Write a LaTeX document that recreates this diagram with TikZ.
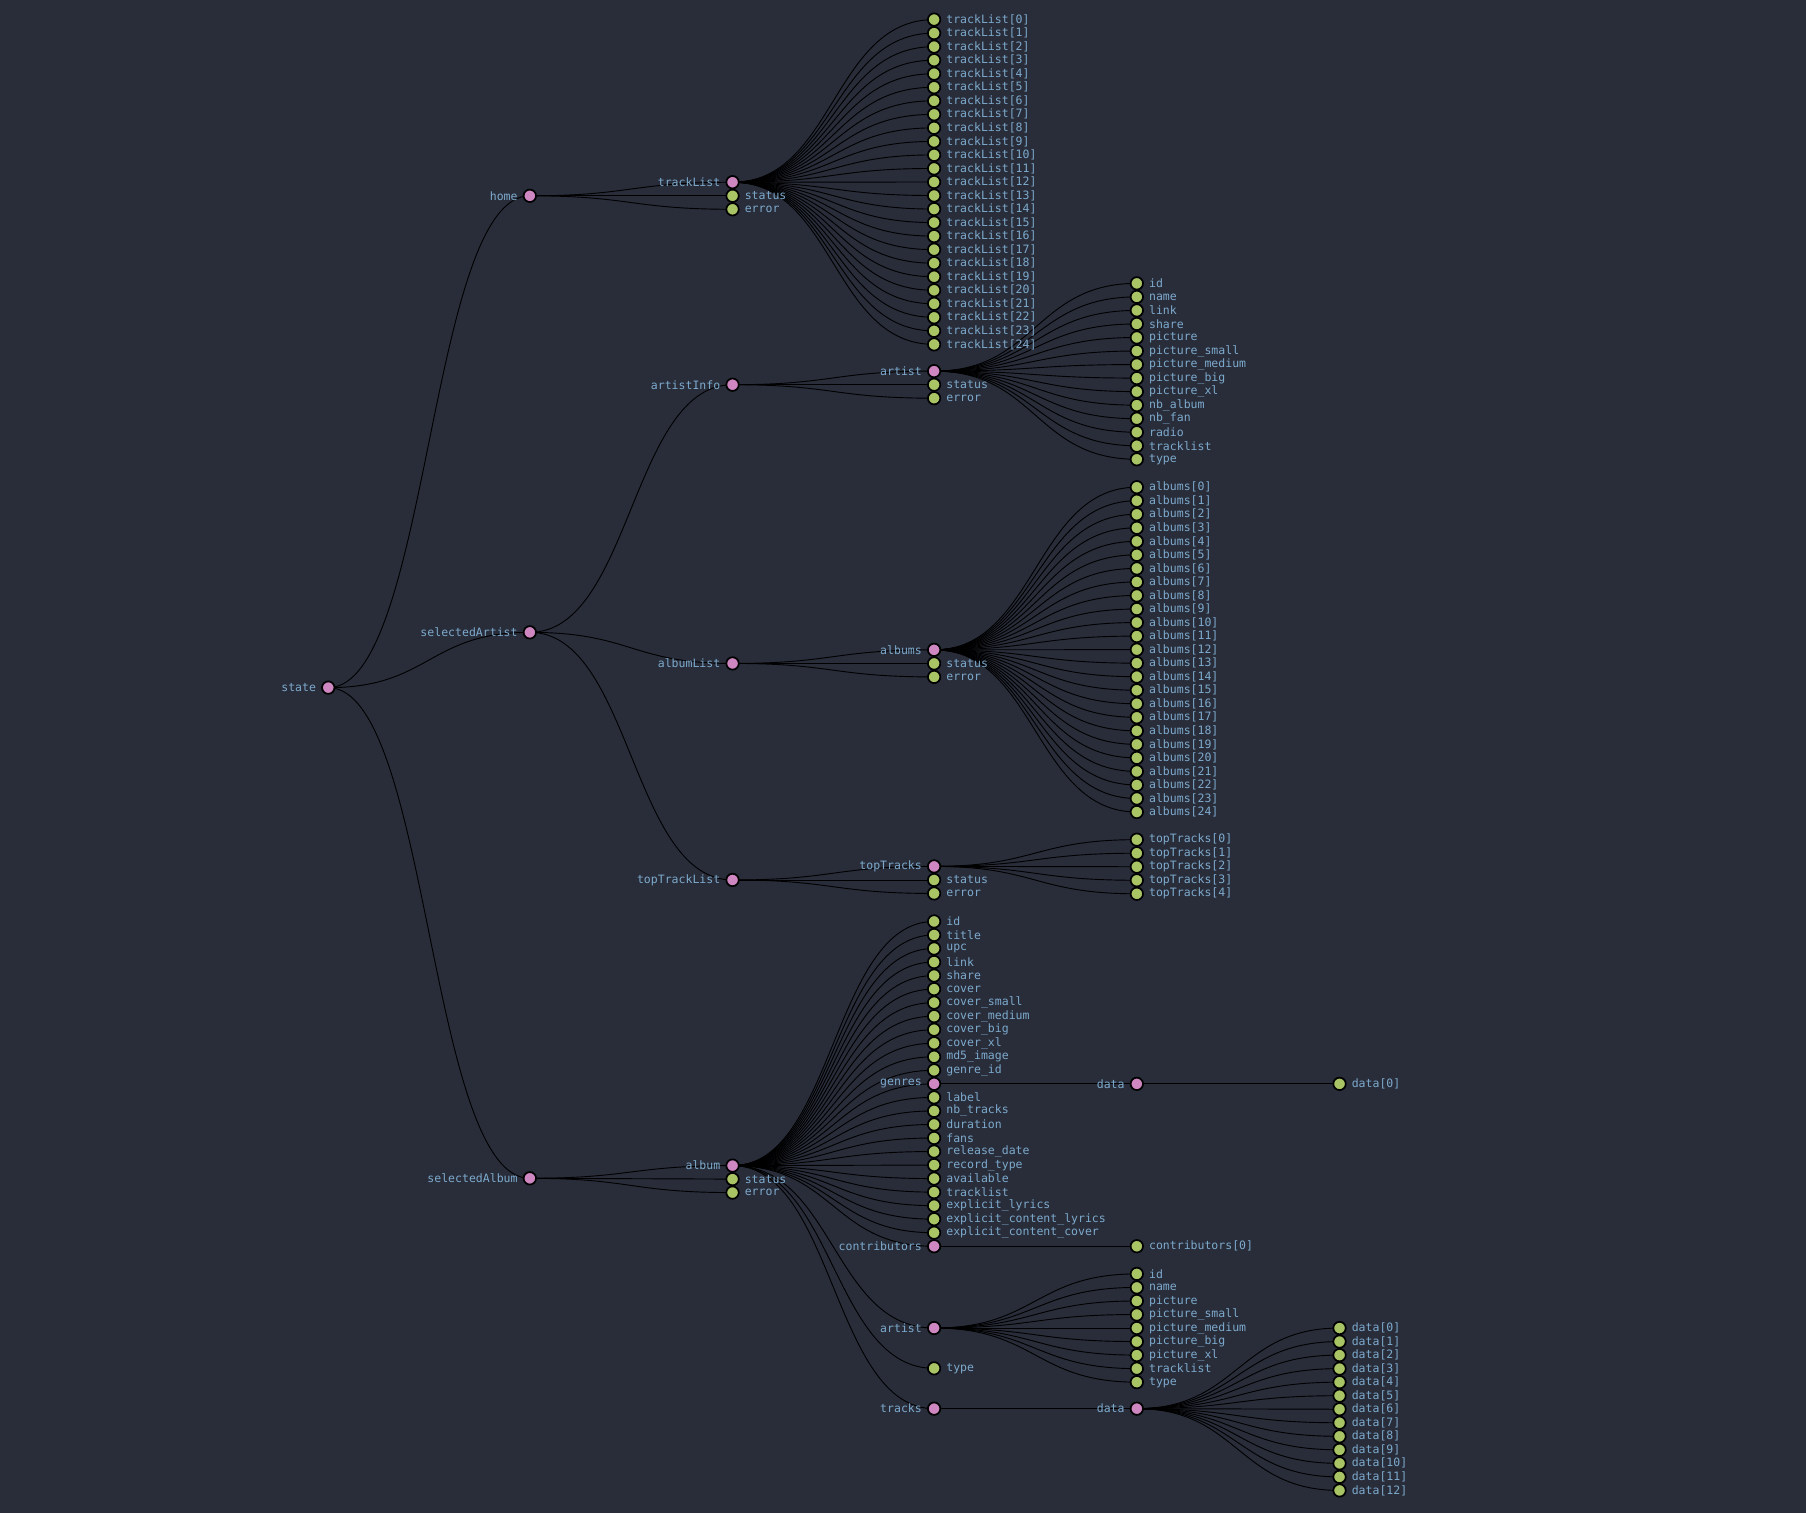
\documentclass[tikz,border=0pt]{standalone}
\usepackage{fontspec}
\setmonofont{DejaVu Sans Mono}
\usepackage{xcolor}
\usepackage{tikz}
\usetikzlibrary{backgrounds}
\definecolor{bgcol}{HTML}{292D3A}
\definecolor{pinkcol}{HTML}{CF87C2}
\definecolor{greencol}{HTML}{A9C465}
\definecolor{txtcol}{HTML}{7DAACD}
\pgfdeclarelayer{edges}
\pgfsetlayers{background,edges,main}

\begin{document}
\begin{tikzpicture}[x=0.5pt,y=-0.5pt,
  branch/.style={circle, draw=black, line width=0.75pt, fill=pinkcol, minimum size=5.4pt, inner sep=0pt},
  leaf/.style={circle, draw=black, line width=0.75pt, fill=greencol, minimum size=5.4pt, inner sep=0pt},
  every label/.style={text=txtcol, font=\ttfamily\fontsize{5}{6}\selectfont, inner sep=0.4pt},
  label distance=1.65pt,
  link/.style={black, line width=0.4pt,
    to path={(\tikztostart.center) .. controls +(88,0) and +(-88,0) .. (\tikztotarget.center)}}]
\begin{pgfonlayer}{background}
\fill[bgcol] (0,0) rectangle (1568,1314);
\end{pgfonlayer}

% root and first level
\node[branch, label=left:state] (state) at (285,597) {};
\node[branch, label=left:home] (home) at (460,170) {};
\node[branch, label=left:selectedArtist] (selArtist) at (460,549) {};
\node[branch, label=left:selectedAlbum] (selAlbum) at (460,1023) {};

% home
\node[branch, label=left:trackList] (trackList) at (636,158.2) {};
\node[leaf, label=right:status] (hmStatus) at (636,170) {};
\node[leaf, label=right:error] (hmError) at (636,181.7) {};
\foreach \k in {0,...,24}
  \node[leaf, label=right:{trackList[\k]}] (tl\k) at (811,{17+\k*11.75}) {};

% selectedArtist
\node[branch, label=left:artistInfo] (artistInfo) at (636,334) {};
\node[branch, label=left:artist] (aiArtist) at (811,322.2) {};
\node[leaf, label=right:status] (aiStatus) at (811,334) {};
\node[leaf, label=right:error] (aiError) at (811,345.7) {};
\foreach \t [count=\k from 0] in {id,name,link,share,picture,picture\_small,picture\_medium,picture\_big,picture\_xl,nb\_album,nb\_fan,radio,tracklist,type}
  \node[leaf, label=right:\t] (aa\k) at (987,{246+\k*11.75}) {};

\node[branch, label=left:albumList] (albumList) at (636,576) {};
\node[branch, label=left:albums] (albums) at (811,564.2) {};
\node[leaf, label=right:status] (alStatus) at (811,576) {};
\node[leaf, label=right:error] (alError) at (811,587.7) {};
\foreach \k in {0,...,24}
  \node[leaf, label=right:{albums[\k]}] (ab\k) at (987,{423+\k*11.75}) {};

\node[branch, label=left:topTrackList] (topTrackList) at (636,764) {};
\node[branch, label=left:topTracks] (topTracks) at (811,752.2) {};
\node[leaf, label=right:status] (ttStatus) at (811,764) {};
\node[leaf, label=right:error] (ttError) at (811,775.7) {};
\foreach \k in {0,...,4}
  \node[leaf, label=right:{topTracks[\k]}] (tt\k) at (987,{729+\k*11.75}) {};

% selectedAlbum
\node[branch, label=left:album] (album) at (636,1012) {};
\node[leaf, label=right:status] (abStatus) at (636,1023.7) {};
\node[leaf, label=right:error] (abError) at (636,1035.4) {};
\foreach \t [count=\k from 0] in {id,title,upc,link,share,cover,cover\_small,cover\_medium,cover\_big,cover\_xl,md5\_image,genre\_id}
  \node[leaf, label=right:\t] (af\k) at (811,{800+\k*11.75}) {};
\node[branch, label=left:genres] (genres) at (811,941) {};
\foreach \t [count=\k from 13] in {label,nb\_tracks,duration,fans,release\_date,record\_type,available,tracklist,explicit\_lyrics,explicit\_content\_lyrics,explicit\_content\_cover}
  \node[leaf, label=right:\t] (af\k) at (811,{800+\k*11.75}) {};
\node[branch, label=left:data] (gData) at (987,941) {};
\node[leaf, label=right:{data[0]}] (gData0) at (1163,941) {};

\node[branch, label=left:contributors] (contributors) at (811,1082) {};
\node[leaf, label=right:{contributors[0]}] (contrib0) at (987,1082) {};

\node[branch, label=left:artist] (alArtist) at (811,1153) {};
\foreach \t [count=\k from 0] in {id,name,picture,picture\_small,picture\_medium,picture\_big,picture\_xl,tracklist,type}
  \node[leaf, label=right:\t] (ar\k) at (987,{1106+\k*11.75}) {};
\node[leaf, label=right:type] (alType) at (811,1188) {};

\node[branch, label=left:tracks] (tracks) at (811,1223) {};
\node[branch, label=left:data] (tData) at (987,1223) {};
\foreach \k in {0,...,12}
  \node[leaf, label=right:{data[\k]}] (td\k) at (1163,{1153+\k*11.75}) {};

% links
\begin{pgfonlayer}{edges}
\foreach \from/\to in {state/home, state/selArtist, state/selAlbum,
    home/trackList, home/hmStatus, home/hmError,
    selArtist/artistInfo, selArtist/albumList, selArtist/topTrackList,
    artistInfo/aiArtist, artistInfo/aiStatus, artistInfo/aiError,
    albumList/albums, albumList/alStatus, albumList/alError,
    topTrackList/topTracks, topTrackList/ttStatus, topTrackList/ttError,
    selAlbum/album, selAlbum/abStatus, selAlbum/abError,
    album/genres, album/contributors, album/alArtist, album/alType, album/tracks,
    genres/gData, gData/gData0, contributors/contrib0, tracks/tData}
  \draw[link] (\from) to (\to);
\foreach \k in {0,...,24} {
  \draw[link] (trackList) to (tl\k);
  \draw[link] (albums) to (ab\k);
}
\foreach \k in {0,...,13}
  \draw[link] (aiArtist) to (aa\k);
\foreach \k in {0,...,4}
  \draw[link] (topTracks) to (tt\k);
\foreach \k in {0,...,11,13,14,...,23}
  \draw[link] (album) to (af\k);
\foreach \k in {0,...,8}
  \draw[link] (alArtist) to (ar\k);
\foreach \k in {0,...,12}
  \draw[link] (tData) to (td\k);
\end{pgfonlayer}
\end{tikzpicture}
\end{document}
